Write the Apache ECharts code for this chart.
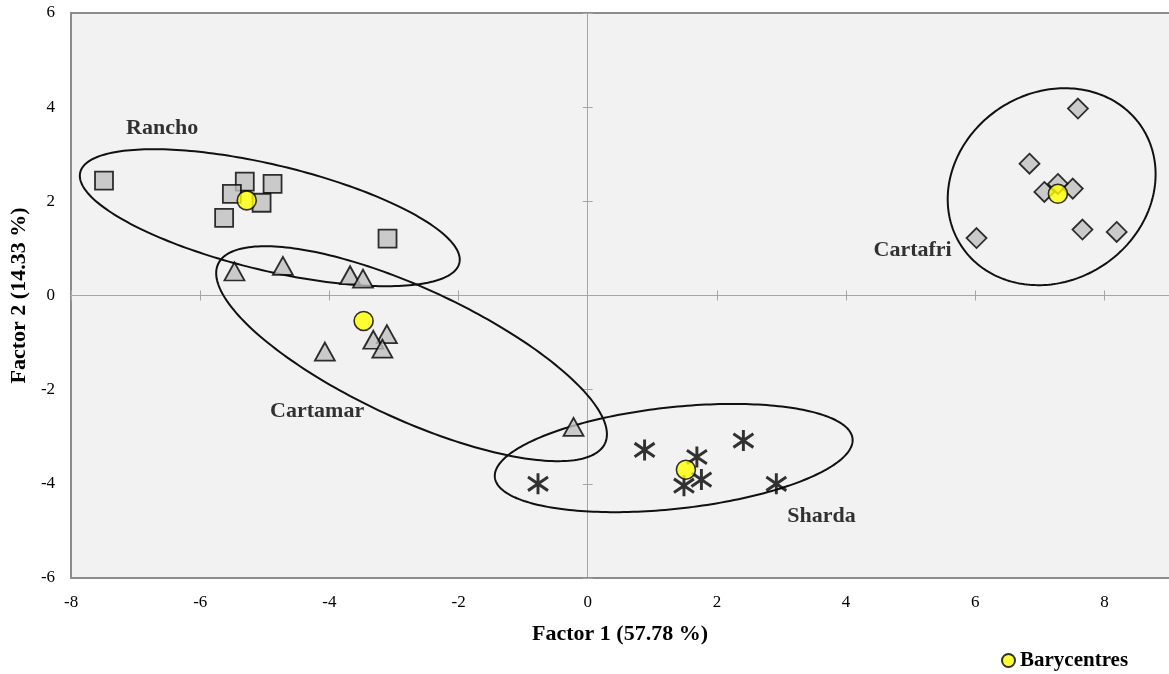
<!DOCTYPE html>
<html>
<head>
<meta charset="utf-8">
<script src="https://cdn.jsdelivr.net/npm/echarts@6/dist/echarts.min.js"></script>
<style>
  html, body { margin: 0; padding: 0; background: #ffffff; }
  #chart { width: 1169px; height: 674px; }
</style>
</head>
<body>
<div id="chart"></div>
<script>
// Factor scores of each sample on the first two factors
const ranchoPts = [[-7.49, 2.44], [-5.31, 2.42], [-4.88, 2.37], [-5.51, 2.16], [-5.05, 1.97], [-5.63, 1.65], [-3.10, 1.21]];
const cartamarPts = [[-5.47, 0.51], [-4.72, 0.63], [-3.68, 0.43], [-3.48, 0.36], [-4.07, -1.19], [-3.11, -0.82], [-3.32, -0.94], [-3.18, -1.13], [-0.22, -2.79]];
const shardaPts = [[-0.77, -4.00], [0.88, -3.28], [2.41, -3.08], [1.69, -3.43], [1.49, -4.04], [1.76, -3.91], [2.92, -4.00]];
const cartafriPts = [[7.59, 3.97], [6.84, 2.80], [7.07, 2.20], [7.28, 2.37], [7.51, 2.27], [7.66, 1.40], [8.19, 1.35], [6.02, 1.22]];

// Group barycentres
const barycentres = [[-5.28, 2.02], [-3.47, -0.54], [1.52, -3.70], [7.28, 2.16]];

// Group ellipses: centre (x, y), first semi-axis vector (ux, uy), second semi-axis vector (vx, vy)
const ellipses = [
  [-4.923, 1.652, 2.935, -0.963, -0.190, -1.091],   // Rancho
  [-2.728, -1.236, 2.995, -1.905, -0.425, -1.258],  // Cartamar
  [1.331, -3.452, 2.769, 0.412, 0.0848, -1.073],    // Sharda
  [7.183, 2.311, 1.396, 1.263, 0.801, -1.667]       // Cartafri
];

// Group names and where each name sits on the plane
const groupNames = ['Rancho', 'Cartamar', 'Sharda', 'Cartafri'];
const groupNamePos = [[-6.59, 3.56], [-4.19, -2.45], [3.62, -4.68], [5.03, 0.95]];

// Axis settings
const xMin = -8, xMax = 9, xStep = 2;
const yMin = -6, yMax = 6, yStep = 2;
const xTitle = 'Factor 1 (57.78 %)';
const yTitle = 'Factor 2 (14.33 %)';
const legendName = 'Barycentres';

const serif = 'Liberation Serif';
// The plot runs past the right edge of the page, so it has no visible right frame
const gridBox = { left: 71, top: 13, width: 1100, height: 565 };

const chart = echarts.init(document.getElementById('chart'), null, { renderer: 'canvas' });

const markerStyle = { color: '#bfbfbf', borderColor: '#000000', borderWidth: 1.8 };
const frameLine = { show: true, onZero: false, lineStyle: { color: '#8c8c8c', width: 2 } };
const hidden = { show: false };

function zeroAxis(position, gridIndex, min, max, step) {
  return {
    type: 'value', gridIndex: gridIndex, position: position,
    min: min, max: max, interval: step,
    axisLine: { show: true, onZero: true, lineStyle: { color: '#a6a6a6', width: 1 } },
    axisTick: { show: true, inside: true, length: 5, lineStyle: { color: '#a6a6a6', width: 1 } },
    axisLabel: hidden, splitLine: hidden
  };
}

const option = {
  animation: false,
  backgroundColor: '#ffffff',
  grid: [
    Object.assign({ show: true, backgroundColor: '#f2f2f2', borderWidth: 0 }, gridBox),
    Object.assign({ show: false }, gridBox)
  ],
  legend: {
    data: [legendName],
    left: 1001, top: 650, padding: 0,
    itemWidth: 13, itemHeight: 13, itemGap: 6,
    icon: 'circle',
    textStyle: { fontFamily: serif, fontWeight: 'bold', fontSize: 21, color: '#000' }
  },
  xAxis: [
    {
      type: 'value', gridIndex: 0, position: 'bottom',
      min: xMin, max: xMax, interval: xStep,
      axisLine: frameLine,
      axisTick: hidden, splitLine: hidden,
      axisLabel: { show: true, showMaxLabel: false, margin: 16, fontFamily: serif, fontSize: 17, color: '#000' },
      name: xTitle, nameLocation: 'middle', nameGap: 45,
      nameTextStyle: { fontFamily: serif, fontWeight: 'bold', fontSize: 22, color: '#000' }
    },
    {
      type: 'value', gridIndex: 0, position: 'top',
      min: xMin, max: xMax, interval: xStep,
      axisLine: frameLine,
      axisTick: hidden, splitLine: hidden, axisLabel: hidden
    },
    zeroAxis('bottom', 1, xMin, xMax, xStep),
    zeroAxis('top', 1, xMin, xMax, xStep)
  ],
  yAxis: [
    {
      type: 'value', gridIndex: 0, position: 'left',
      min: yMin, max: yMax, interval: yStep,
      axisLine: frameLine,
      axisTick: hidden, splitLine: hidden,
      axisLabel: { show: true, margin: 16, fontFamily: serif, fontSize: 17, color: '#000' },
      name: yTitle, nameLocation: 'middle', nameGap: 35,
      nameTextStyle: { fontFamily: serif, fontWeight: 'bold', fontSize: 22, color: '#000' }
    },
    zeroAxis('left', 1, yMin, yMax, yStep),
    zeroAxis('right', 1, yMin, yMax, yStep)
  ],
  series: [
    {
      type: 'custom', name: 'ellipses', xAxisIndex: 0, yAxisIndex: 0, silent: true, z: 3,
      data: ellipses,
      encode: { x: 0, y: 1 },
      renderItem: function (params, api) {
        const cx = api.value(0), cy = api.value(1);
        const ux = api.value(2), uy = api.value(3);
        const vx = api.value(4), vy = api.value(5);
        const pts = [];
        const n = 240;
        for (let i = 0; i < n; i++) {
          const t = (i / n) * Math.PI * 2;
          const c = Math.cos(t), s = Math.sin(t);
          pts.push(api.coord([cx + ux * c + vx * s, cy + uy * c + vy * s]));
        }
        return {
          type: 'polygon',
          shape: { points: pts },
          style: { fill: 'none', stroke: '#111111', lineWidth: 2 }
        };
      }
    },
    {
      type: 'scatter', name: 'Rancho', z: 4, silent: true,
      symbol: 'rect', symbolSize: 18,
      itemStyle: markerStyle, data: ranchoPts
    },
    {
      type: 'scatter', name: 'Cartamar', z: 4, silent: true,
      symbol: 'triangle', symbolSize: [20, 18],
      itemStyle: markerStyle, data: cartamarPts
    },
    {
      type: 'scatter', name: 'Sharda', z: 4, silent: true,
      symbol: 'path://M10,0 L10,20 M1.5,3.5 L18.5,16.5 M1.5,16.5 L18.5,3.5',
      symbolSize: [20, 21],
      itemStyle: { color: 'transparent', borderColor: '#000000', borderWidth: 3 },
      data: shardaPts
    },
    {
      type: 'scatter', name: 'Cartafri', z: 4, silent: true,
      symbol: 'diamond', symbolSize: [20, 20],
      itemStyle: markerStyle, data: cartafriPts
    },
    {
      type: 'scatter', name: legendName, z: 5, silent: true,
      symbol: 'circle', symbolSize: 19,
      itemStyle: { color: '#ffff00', borderColor: '#000000', borderWidth: 1.6 },
      data: barycentres
    },
    {
      type: 'scatter', name: 'groupNames', z: 6, silent: true,
      symbolSize: 0,
      data: groupNames.map(function (nm, i) { return { name: nm, value: groupNamePos[i] }; }),
      label: {
        show: true, position: 'inside', formatter: '{b}',
        fontFamily: serif, fontWeight: 'bold', fontSize: 22, color: '#000'
      }
    }
  ]
};

chart.setOption(option);
</script>
</body>
</html>
